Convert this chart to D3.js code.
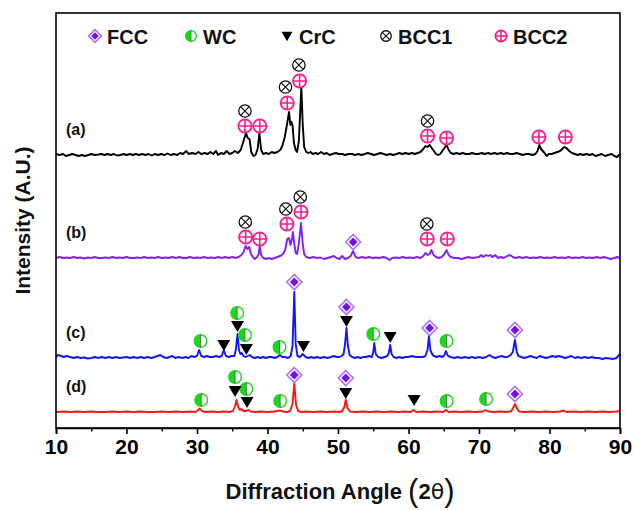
<!DOCTYPE html>
<html>
<head>
<meta charset="utf-8">
<script src="https://cdn.jsdelivr.net/npm/d3@7"></script>
<style>
  body { margin: 0; background: #fff; }
  text { font-family: Arial, "Liberation Sans", sans-serif; }
</style>
</head>
<body>
<svg id="chart" width="634" height="510"></svg>
<script>
// XRD patterns: [2θ, intensity above each pattern's own baseline]
const patternA = [
  [10,1],[10.5,0],[11,1],[11.4,-1],[11.9,0],[12.3,1],[12.8,0],[13.2,-1],[13.7,0],[14.1,-1],[14.6,0],[15,1],[15.5,0],[16,0.5],[16.4,1],[16.9,0],[17.3,1],[17.8,0],[18.2,1],[18.7,-0.5],[19.1,0],[19.6,1],[20,0],[20.5,1],[20.9,0],[21.3,1],[21.8,0],[22.2,1],[22.7,0],[23.1,1],[23.6,-0.5],[24,1],[24.5,0],[24.9,1],[25.4,0],[25.8,1.5],[26.3,0],[26.7,1],[27.2,0],[27.6,2],[28,1],[28.5,4],[28.8,1],[29.3,2],[29.8,1],[30.2,3],[30.6,1],[31.1,2],[31.5,1],[31.9,3],[32.3,1],[32.7,4],[33,0],[33.4,2],[33.8,1],[34.2,4],[34.6,1],[35,2],[35.4,4],[35.8,2],[36.2,5],[36.6,14],[36.95,22],[37.2,17],[37.45,16],[37.7,3],[38,-1],[38.3,0],[38.6,6],[38.85,22],[39.1,5],[39.4,1],[39.8,2],[40.2,1],[40.6,3],[41,2],[41.4,3],[41.8,5],[42.1,9],[42.45,18],[42.8,32],[43.05,43],[43.25,30],[43.4,33],[43.55,30],[43.75,12],[44,5],[44.2,3],[44.45,14],[44.65,45],[44.8,68],[45,30],[45.2,8],[45.5,3],[45.8,2],[46.1,3],[46.4,1],[46.8,2],[47.2,1],[47.6,3],[48,1],[48.4,2],[48.8,0],[49.2,1],[49.7,2],[50.1,1],[50.6,1],[51,0],[51.5,1],[52,1],[52.4,0],[52.9,1],[53.3,0],[53.8,1],[54.2,2],[54.7,1],[55.1,0],[55.6,1],[56,2],[56.5,1],[56.9,0],[57.4,1],[57.8,0],[58.3,1],[58.7,2],[59.1,1],[59.6,2],[60,1],[60.5,2],[60.9,1],[61.3,2],[61.7,3],[62.1,6],[62.4,9],[62.7,8],[63,10],[63.3,7],[63.6,4],[63.9,1],[64.2,0],[64.5,1],[64.8,4],[65.1,7],[65.4,10],[65.7,5],[66,2],[66.4,1],[66.8,2],[67.2,1],[67.7,2],[68.1,1],[68.6,1],[69,2],[69.5,1],[69.9,1],[70.4,2],[70.8,1],[71.3,2],[71.7,1],[72.2,2],[72.6,1],[73.1,2],[73.5,1],[74,2],[74.4,1],[74.9,1],[75.3,2],[75.8,1],[76.2,0],[76.7,1],[77.1,1],[77.6,0],[78,1],[78.3,4],[78.55,10],[78.8,6],[79.05,4],[79.3,2],[79.6,-1],[79.9,1],[80.3,1],[80.7,2],[81.1,3],[81.5,4],[81.8,6],[82.1,8],[82.4,7],[82.8,4],[83.2,2],[83.6,1],[84,0],[84.4,1],[84.8,0],[85.2,1],[85.7,0],[86.1,1],[86.5,-1],[87,0],[87.4,1],[87.9,-1],[88.3,0],[88.8,1],[89.2,-1],[89.6,-2],[90,1]
];
const patternB = [
  [10,0],[10.5,1],[11,0],[11.5,0.5],[12,0],[12.5,1],[13,0],[13.5,0.5],[14,-0.5],[14.5,0.5],[15,0],[15.5,1],[16,0],[16.5,0],[17,0.5],[17.5,0],[18,1],[18.5,0],[19,0.5],[19.5,0],[20,1],[20.5,0],[21,0],[21.5,0.5],[22,0],[22.5,1],[23,0],[23.5,0.5],[24,0],[24.5,1],[25,0],[25.5,0.5],[26,0],[26.5,1],[27,0],[27.5,1],[28,0],[28.5,0],[29,1],[29.5,0],[30,0.5],[30.5,0],[31,1],[31.5,0],[32,0.5],[32.5,0],[33,1],[33.5,0],[34,1],[34.5,0],[35,1],[35.5,0],[35.9,1],[36.3,3],[36.6,6],[36.9,12],[37.15,9],[37.4,11],[37.65,4],[37.9,1],[38.2,-1],[38.5,1],[38.75,4],[38.9,12],[39.1,3],[39.4,0],[39.8,-1],[40.2,0],[40.6,-1],[41,0],[41.4,1],[41.8,2],[42.2,4],[42.5,8],[42.8,19],[43.05,20],[43.25,13],[43.45,18],[43.6,26],[43.8,14],[44,5],[44.2,4],[44.45,15],[44.75,35],[45,14],[45.2,4],[45.5,1],[46,0],[46.5,1],[47,0],[47.5,0.5],[48,-1],[48.5,0],[49,1],[49.4,2],[49.8,0],[50.2,-1],[50.6,2],[51,-1],[51.4,0],[51.8,2],[52.15,7],[52.5,1],[52.9,0],[53.4,1],[53.9,0],[54.4,1],[54.9,0],[55.4,0.5],[55.9,0],[56.4,1],[56.9,0],[57.3,-2],[57.7,0],[58.2,0.5],[58.7,0],[59.2,1],[59.7,0],[60.2,0.5],[60.7,0],[61.2,1],[61.7,0],[62.1,2],[62.4,5],[62.7,3],[63,4],[63.25,8],[63.55,3],[63.9,1],[64.3,0],[64.7,1],[65.1,4],[65.4,8],[65.7,3],[66,1],[66.5,0],[67,0],[67.5,-1],[68,0],[68.5,1],[69,0],[69.5,0.5],[70,1],[70.3,3],[70.6,1],[71,3],[71.3,2],[71.6,3],[71.9,1],[72.3,3],[72.7,0],[73.1,1],[73.5,0],[74,2],[74.4,3],[74.8,1],[75.2,0],[75.7,1],[76.2,0],[76.7,1],[77.2,0],[77.7,0.5],[78.2,0],[78.7,1],[79.2,0],[79.7,0.5],[80.2,0],[80.7,1],[81.2,0],[81.7,0.5],[82.2,0],[82.7,1],[83.2,0],[83.7,0.5],[84.2,0],[84.7,1],[85.2,0],[85.7,0.5],[86.2,0],[86.7,1],[87.2,0],[87.7,1],[88.2,0],[88.7,-1],[89.2,0],[89.6,1],[90,0]
];
const patternC = [
  [10,1],[10.3,3],[10.7,2],[11.1,1],[11.5,2],[12,1],[12.5,0],[13,1],[13.5,0],[14,0.5],[14.5,-0.5],[15,0],[15.5,1],[16,0],[16.5,1],[17,0],[17.5,1],[18,0],[18.5,1],[19,0],[19.5,0.5],[20,1],[20.5,0],[21,1],[21.5,0],[22,1],[22.5,0],[23,1],[23.5,0],[24,1],[24.4,2],[24.8,3],[25.2,1],[25.7,0],[26.1,1],[26.5,2],[26.9,0],[27.4,1],[27.9,0],[28.4,1],[28.8,0],[29.2,2],[29.6,1],[30,2],[30.3,8],[30.6,2],[31,1],[31.4,2],[31.8,1],[32.3,1],[32.7,2],[33.1,1],[33.5,2],[33.8,8],[34.1,2],[34.5,1],[34.9,2],[35.3,2],[35.5,8],[35.75,24],[35.95,8],[36.15,4],[36.35,5],[36.6,2],[36.9,1],[37.2,2],[37.5,3],[37.8,1],[38.2,0],[38.6,1],[39,0],[39.4,1],[39.8,0],[40.2,1],[40.6,1],[41,0],[41.4,1],[41.75,3],[42.1,1],[42.5,1],[42.9,0],[43.3,2],[43.55,12],[43.8,66],[44,14],[44.25,2],[44.6,1],[45,4],[45.4,1],[45.8,0],[46.2,1],[46.6,0],[47,1],[47.5,0],[48,1],[48.5,0],[49,1],[49.4,2],[49.8,1],[50.2,1],[50.5,2],[50.8,4],[51,14],[51.2,30],[51.4,12],[51.65,3],[52,1],[52.4,0],[52.8,1],[53.2,0],[53.6,1],[54,1],[54.4,2],[54.8,1],[55,6],[55.15,15],[55.35,4],[55.7,1],[56.2,0],[56.6,1],[57,2],[57.2,5],[57.4,13],[57.6,4],[57.9,1],[58.3,0],[58.7,1],[59.1,0],[59.5,1],[60,1],[60.5,2],[61,1],[61.5,1],[62,1],[62.4,2],[62.7,8],[62.9,22],[63.1,8],[63.35,4],[63.6,2],[64,1],[64.4,2],[64.8,1],[65.1,3],[65.3,7],[65.6,2],[66,1],[66.5,0],[67,1],[67.5,0],[68,1],[68.5,0],[69,1],[69.5,0],[70,1],[70.5,0],[71,1],[71.5,3],[71.9,1],[72.3,0],[72.7,1],[73.2,2],[73.6,1],[74,1],[74.5,3],[74.8,6],[75.1,18],[75.35,6],[75.6,2],[76,1],[76.4,0],[76.9,1],[77.3,2],[77.7,1],[78.2,0],[78.6,2],[79,1],[79.5,0],[80,1],[80.4,2],[80.9,1],[81.3,2],[81.8,1],[82.2,0],[82.7,1],[83.1,2],[83.6,0],[84,1],[84.5,0],[85,1],[85.5,0],[86,1],[86.5,0],[87,0],[87.5,-1],[88,0],[88.5,-0.5],[89,-1],[89.5,0],[90,4]
];
const patternD = [
  [10,0],[11,0.5],[12,0],[13,0.5],[14,0],[15,0.5],[16,0],[17,0],[18,0.5],[19,0],[20,0.5],[21,0],[22,0.5],[23,0],[24,0],[25,0.5],[26,0],[27,0.5],[28,0],[29,0.5],[29.8,0],[30.2,2],[30.4,3.5],[30.7,1],[31.2,0],[32,0.5],[33,0],[33.8,0.5],[34.6,0],[35.1,1],[35.4,6],[35.6,12],[35.85,5],[36.1,2],[36.3,3],[36.6,1],[37,1],[37.3,2],[37.6,0.5],[38.2,0],[39,0.5],[40,0],[41,0.5],[41.7,1.5],[42.2,0.5],[42.8,0],[43.2,1],[43.55,8],[43.8,29],[44.05,7],[44.35,1],[44.8,0],[45.5,0.5],[46.5,0],[47.5,0.5],[48.5,0],[49.5,0.5],[50.2,0],[50.6,1],[50.9,5],[51.1,12],[51.35,4],[51.7,0.5],[52.5,0],[53.5,0.5],[54.5,0],[55.5,0.5],[56.5,0],[57.5,0.5],[58.5,0],[59.5,0.5],[60.3,0],[60.7,2],[61.1,0],[62,0.5],[63,0],[64,0.5],[64.9,0],[65.3,2],[65.7,0],[66.5,0.5],[67.5,0],[68.5,0.5],[69.5,0],[70.5,0.5],[70.9,2],[71.3,0.5],[72,0],[73,0.5],[74,0],[74.6,1],[74.9,5],[75.1,8],[75.35,4],[75.7,0.5],[76.5,0],[77.5,0.5],[78.5,0],[79.5,0.5],[80.5,0],[81.5,0.5],[82,1.5],[82.4,0],[83.5,0.5],[84.5,0],[85.5,0.5],[86.5,0],[87.5,0.5],[88.5,0],[89.5,0.5],[90,1]
];

// Vertical stacking offset of each pattern (same units as intensity)
const patternOffsets = [273, 170, 70, 16];
const patternLabels = ["(a)", "(b)", "(c)", "(d)"];

// Phase markers: [phase, 2θ, height above baseline]
const markersA = [
  ["BCC1",36.8,44],["BCC1",42.55,68],["BCC1",44.45,90],["BCC1",62.7,34],
  ["BCC2",36.8,29],["BCC2",38.9,29],["BCC2",42.8,52],["BCC2",44.55,74],["BCC2",62.7,19],["BCC2",65.4,17],["BCC2",78.5,18],["BCC2",82.25,18]
];
const markersB = [
  ["BCC1",36.85,36],["BCC1",42.6,49],["BCC1",44.65,61],["BCC1",62.6,34],
  ["BCC2",36.9,21],["BCC2",38.9,19],["BCC2",42.75,34],["BCC2",44.75,46],["BCC2",62.65,19],["BCC2",65.5,19],
  ["FCC",52.15,16]
];
const markersC = [
  ["WC",30.5,17],["WC",35.7,45],["WC",36.8,23],["WC",41.7,11],["WC",55.0,24],["WC",65.4,17],
  ["CrC",33.8,13],["CrC",35.75,32],["CrC",37.0,9],["CrC",45.1,12],["CrC",51.2,37],["CrC",57.4,21],
  ["FCC",43.8,76],["FCC",51.2,51],["FCC",63.0,30],["FCC",75.1,28]
];
const markersD = [
  ["WC",30.6,12],["WC",35.4,35],["WC",37.0,23],["WC",41.8,11],["WC",65.4,11],["WC",71.0,13],
  ["CrC",35.4,21],["CrC",37.1,10],["CrC",51.1,19],["CrC",60.8,12],
  ["FCC",43.8,37],["FCC",51.1,34],["FCC",75.1,18]
];

const legendPhases = ["FCC", "WC", "CrC", "BCC1", "BCC2"];
const xMajorTicks = [10, 20, 30, 40, 50, 60, 70, 80, 90];
const xMinorTicks = [15, 25, 35, 45, 55, 65, 75, 85];

const patterns = [patternA, patternB, patternC, patternD];
const markerSets = [markersA, markersB, markersC, markersD];
const lineColors = ["#000000", "#7f1fff", "#1414ff", "#ff1414"];

const svg = d3.select("#chart");
const plot = { left: 56, right: 620, top: 13, bottom: 428 };

const x = d3.scaleLinear().domain([10, 90]).range([plot.left, plot.right]);
const y = d3.scaleLinear().domain([0, 415]).range([plot.bottom, plot.top]);

// Patterns
patterns.forEach((pts, i) => {
  const off = patternOffsets[i];
  const line = d3.line().x(d => x(d[0])).y(d => y(d[1] + off));
  svg.append("path")
    .attr("d", line(pts))
    .attr("fill", "none")
    .attr("stroke", lineColors[i])
    .attr("stroke-width", 1.9)
    .attr("stroke-linejoin", "round");
  svg.append("text")
    .attr("x", 66)
    .attr("y", y(off) - 20)
    .attr("font-size", 16)
    .attr("font-weight", "bold")
    .attr("fill", "#111")
    .text(patternLabels[i]);
});

// Phase symbols
function drawSymbol(g, phase, cx, cy, s) {
  if (phase === "FCC") {
    const o = 7.5 * s, n = 4.4 * s;
    g.append("path")
      .attr("d", `M${cx},${cy - o}L${cx + o},${cy}L${cx},${cy + o}L${cx - o},${cy}Z`)
      .attr("fill", "#fff").attr("stroke", "#a873ff").attr("stroke-width", 1.6);
    g.append("path")
      .attr("d", `M${cx},${cy - n}L${cx + n},${cy}L${cx},${cy + n}L${cx - n},${cy}Z`)
      .attr("fill", "#7410f0");
  } else if (phase === "WC") {
    const r = 6.3 * s;
    g.append("circle").attr("cx", cx).attr("cy", cy).attr("r", r)
      .attr("fill", "#fff").attr("stroke", "#1bd81b").attr("stroke-width", 1.4);
    g.append("path")
      .attr("d", `M${cx},${cy - r}A${r},${r} 0 0 0 ${cx},${cy + r}Z`)
      .attr("fill", "#1bd81b");
    g.append("line").attr("x1", cx).attr("x2", cx).attr("y1", cy - r).attr("y2", cy + r)
      .attr("stroke", "#444").attr("stroke-width", 0.7);
  } else if (phase === "CrC") {
    const w = 6.5 * s, h = 5 * s;
    g.append("path")
      .attr("d", `M${cx - w},${cy - h}L${cx + w},${cy - h}L${cx},${cy + h + 1}Z`)
      .attr("fill", "#000");
  } else if (phase === "BCC1") {
    const r = 6.2 * s, k = r * 0.7;
    g.append("circle").attr("cx", cx).attr("cy", cy).attr("r", r)
      .attr("fill", "#fff").attr("stroke", "#111").attr("stroke-width", 1.3);
    g.append("path")
      .attr("d", `M${cx - k},${cy - k}L${cx + k},${cy + k}M${cx + k},${cy - k}L${cx - k},${cy + k}`)
      .attr("stroke", "#111").attr("stroke-width", 1.2);
  } else if (phase === "BCC2") {
    const r = 6.6 * s;
    g.append("circle").attr("cx", cx).attr("cy", cy).attr("r", r)
      .attr("fill", "#fff").attr("stroke", "#ff1a8c").attr("stroke-width", 1.8);
    g.append("path")
      .attr("d", `M${cx - r},${cy}L${cx + r},${cy}M${cx},${cy - r}L${cx},${cy + r}`)
      .attr("stroke", "#ff1a8c").attr("stroke-width", 1.6);
  }
}

const symLayer = svg.append("g");
markerSets.forEach((set, i) => {
  set.forEach(([phase, tt, h]) => {
    drawSymbol(symLayer, phase, x(tt), y(h + patternOffsets[i]), 1);
  });
});

// Frame
svg.append("rect")
  .attr("x", plot.left).attr("y", plot.top)
  .attr("width", plot.right - plot.left).attr("height", plot.bottom - plot.top)
  .attr("fill", "none").attr("stroke", "#000").attr("stroke-width", 1.6);

// Bottom axis
const axisMajor = d3.axisBottom(x).tickValues(xMajorTicks).tickSize(6).tickPadding(5).tickFormat(d3.format("d"));
const axisMinor = d3.axisBottom(x).tickValues(xMinorTicks).tickSize(3.5).tickFormat("");
const gx = svg.append("g").attr("transform", `translate(0,${plot.bottom})`).call(axisMajor);
svg.append("g").attr("transform", `translate(0,${plot.bottom})`).call(axisMinor)
  .call(g => g.select(".domain").remove())
  .call(g => g.selectAll("line").attr("stroke-width", 1.4));
gx.select(".domain").attr("stroke-width", 1.6);
gx.selectAll("line").attr("stroke-width", 1.6);
gx.selectAll("text")
  .attr("font-size", 21).attr("font-weight", "bold").attr("fill", "#000")
  .attr("font-family", "Arial, 'Liberation Sans', sans-serif");

// Axis titles
const xt = svg.append("text")
  .attr("x", 340).attr("y", 499)
  .attr("text-anchor", "middle")
  .attr("font-size", 22).attr("font-weight", "bold").attr("fill", "#111");
xt.append("tspan").text("Diffraction Angle ");
xt.append("tspan").attr("font-size", 31).attr("font-weight", "normal").attr("dy", 2).text("(");
xt.append("tspan").attr("dy", -2).text("2");
xt.append("tspan").attr("font-weight", "normal").attr("font-family", "'DejaVu Sans', sans-serif").text("θ");
xt.append("tspan").attr("font-size", 31).attr("font-weight", "normal").attr("dy", 2).text(")");

svg.append("text")
  .attr("transform", `translate(30,${(plot.top + plot.bottom) / 2}) rotate(-90)`)
  .attr("text-anchor", "middle")
  .attr("font-size", 21).attr("font-weight", "bold").attr("fill", "#111")
  .text("Intensity (A.U.)");

// Legend
const legendSymX = [95, 191, 287, 386, 501];
const legendY = 36;
const lg = svg.append("g");
legendPhases.forEach((p, i) => {
  drawSymbol(lg, p, legendSymX[i], legendY, 0.85);
  lg.append("text")
    .attr("x", legendSymX[i] + 12).attr("y", legendY + 7.5)
    .attr("font-size", 20).attr("font-weight", "bold").attr("fill", "#111")
    .text(p);
});
</script>
</body>
</html>
